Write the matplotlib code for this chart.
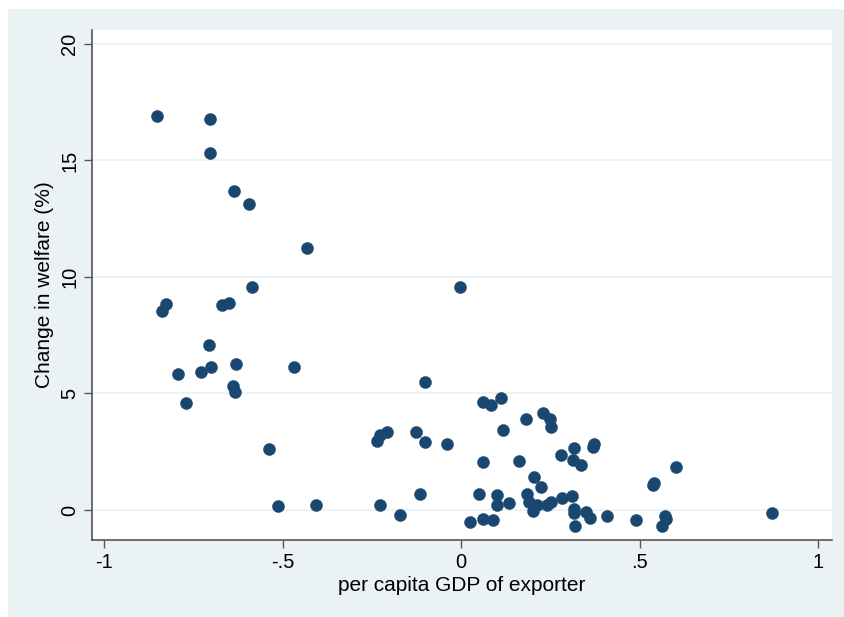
import numpy as np
import matplotlib
matplotlib.use("Agg")
import matplotlib.pyplot as plt
from matplotlib.patches import Rectangle

# per capita GDP of exporter (demeaned log) and welfare change in percent
gdp = [-0.852, -0.703, -0.703, -0.636, -0.594, -0.431, -0.585, -0.003, -0.826, -0.838,
       -0.669, -0.650, -0.706, -0.630, -0.700, -0.468, -0.793, -0.728, -0.639, -0.633,
       -0.770, -0.101, -0.538, -0.513, -0.406, -0.235, -0.227, -0.207, -0.227, -0.171,
       -0.126, -0.101, -0.115, -0.039, 0.062, 0.084, 0.112, 0.118, 0.062, 0.050,
       0.025, 0.062, 0.090, 0.101, 0.101, 0.134, 0.182, 0.230, 0.249, 0.252,
       0.162, 0.204, 0.224, 0.185, 0.190, 0.202, 0.213, 0.241, 0.252, 0.280,
       0.283, 0.317, 0.314, 0.336, 0.311, 0.317, 0.317, 0.319, 0.350, 0.361,
       0.373, 0.370, 0.409, 0.490, 0.538, 0.541, 0.602, 0.571, 0.574, 0.563,
       0.871]
welfare = [16.9, 16.8, 15.3, 13.7, 13.15, 11.25, 9.55, 9.55, 8.85, 8.55,
           8.8, 8.9, 7.1, 6.25, 6.15, 6.15, 5.85, 5.9, 5.3, 5.05,
           4.6, 5.5, 2.6, 0.15, 0.2, 2.95, 3.2, 3.35, 0.2, -0.2,
           3.35, 2.9, 0.7, 2.85, 4.65, 4.5, 4.8, 3.45, 2.05, 0.7,
           -0.5, -0.4, -0.45, 0.65, 0.2, 0.3, 3.9, 4.15, 3.9, 3.55,
           2.1, 1.4, 1.0, 0.7, 0.35, -0.05, 0.2, 0.2, 0.35, 2.35,
           0.5, 2.65, 2.15, 1.95, 0.6, 0.05, -0.15, -0.7, -0.1, -0.35,
           2.85, 2.7, -0.25, -0.45, 1.05, 1.15, 1.85, -0.25, -0.4, -0.7,
           -0.15]

x_ticks = [-1, -0.5, 0, 0.5, 1]
x_labels = ["-1", "-.5", "0", ".5", "1"]
y_ticks = [0, 5, 10, 15, 20]

plt.rcParams['font.family'] = ['Liberation Sans', 'DejaVu Sans']

W, H = 844, 617
fig = plt.figure(figsize=(W / 100, H / 100), dpi=100, facecolor='white')
# stata-like graph region behind the plot area
fig.add_artist(Rectangle((8 / W, 0), 1 - 8 / W, 1 - 9 / H,
                         transform=fig.transFigure, facecolor='#eaf2f3',
                         edgecolor='none', zorder=-10))

ax = fig.add_axes([92 / W, 1 - 540 / H, (832 - 92) / W, (540 - 30) / H])
ax.set_facecolor('white')

ax.scatter(gdp, welfare, s=76, color='#1a476f', edgecolors='#1a476f',
           linewidths=0.3, zorder=3)

ax.set_xlim(-1.034, 1.039)
ax.set_ylim(-1.29, 20.6)
ax.set_xticks(x_ticks)
ax.set_xticklabels(x_labels)
ax.set_yticks(y_ticks)
ax.set_yticklabels([str(v) for v in y_ticks], rotation=90, va='center')

for v in y_ticks:
    ax.axhline(v, color='#eaf2f3', lw=1.3, zorder=1)

for side in ['top', 'right']:
    ax.spines[side].set_visible(False)
for side in ['left', 'bottom']:
    ax.spines[side].set_color('#555555')
    ax.spines[side].set_linewidth(1.2)

ax.tick_params(axis='both', direction='out', length=6, width=1.0,
               color='#555555', labelsize=14.5, labelcolor='black', pad=3)

ax.set_xlabel("per capita GDP of exporter", fontsize=15, labelpad=3)
ax.set_ylabel("Change in welfare (%)", fontsize=15, labelpad=5)

fig.savefig("out.png", dpi=100, facecolor=fig.get_facecolor())
